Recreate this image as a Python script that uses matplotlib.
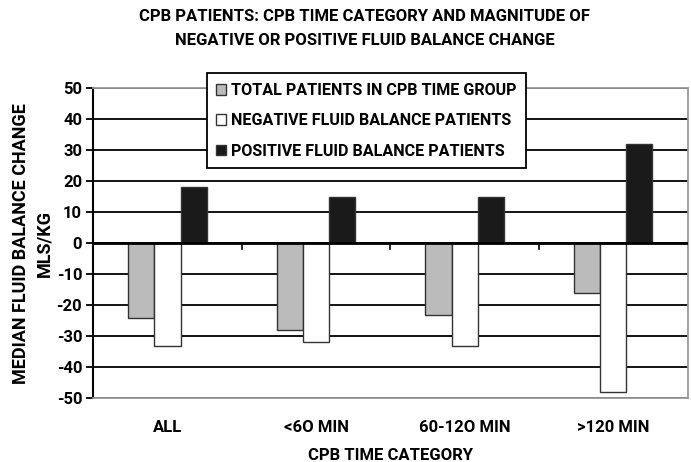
import matplotlib
matplotlib.use("Agg")
import matplotlib.pyplot as plt
import numpy as np

categories = ["ALL", "<6O MIN", "60-12O MIN", ">120 MIN"]
total_vals = [-24, -28, -23, -16]
negative_vals = [-33, -32, -33, -48]
positive_vals = [18, 15, 15, 32]
series_labels = ["TOTAL PATIENTS IN CPB TIME GROUP",
                 "NEGATIVE FLUID BALANCE PATIENTS",
                 "POSITIVE FLUID BALANCE PATIENTS"]
yticks = [50, 40, 30, 20, 10, 0, -10, -20, -30, -40, -50]

plt.rcParams['font.family'] = ['Roboto', 'DejaVu Sans']
plt.rcParams['font.weight'] = 'bold'

W, H = 691, 462
fig = plt.figure(figsize=(W / 100, H / 100), dpi=100)
ax = fig.add_axes([0.135, 0.138, 0.860, 0.671])

x = np.arange(len(categories))
w = 0.176
edge = '#333333'
ax.bar(x - w, total_vals, w, color='#bbbbbb', edgecolor=edge, linewidth=1, zorder=3, label=series_labels[0])
ax.bar(x, negative_vals, w, color='white', edgecolor=edge, linewidth=1, zorder=3, label=series_labels[1])
ax.bar(x + w, positive_vals, w, color='#1a1a1a', edgecolor=edge, linewidth=1, zorder=3, label=series_labels[2])

ax.set_xlim(-0.5, len(categories) - 0.5)
ax.set_ylim(-50, 50)
ax.set_yticks(yticks)
ax.set_yticklabels([str(v) for v in yticks], fontsize=12, fontweight='bold')
ax.yaxis.grid(True, color='black', linewidth=1.3, zorder=0)
ax.set_axisbelow(True)
ax.tick_params(axis='y', length=5, width=1.3, color='black', pad=3)

ax.set_xticks(x)
ax.set_xticklabels(categories, fontsize=12, fontweight='bold')
ax.tick_params(axis='x', length=0, pad=16)

# zero axis line and category boundary ticks
ax.axhline(0, color='black', linewidth=2, zorder=4)
for b in np.arange(0.5, len(categories) - 0.5, 1.0):
    ax.plot([b, b], [0, -2], color='black', linewidth=1.2, zorder=4)

for s in ['top', 'right', 'bottom']:
    ax.spines[s].set_color('#999999')
    ax.spines[s].set_linewidth(1.3)
ax.spines['left'].set_color('black')
ax.spines['left'].set_linewidth(1.5)

ax.set_xlabel("CPB TIME CATEGORY", fontsize=12, fontweight='bold', labelpad=9)

# two-line y label placed explicitly
fig.text(21.5 / W, 1 - 243.5 / H, "MEDIAN FLUID BALANCE CHANGE", rotation=90,
         ha='center', va='center', fontsize=13, fontweight='bold')
fig.text(44.5 / W, 1 - 243.5 / H, "MLS/KG", rotation=90,
         ha='center', va='center', fontsize=13, fontweight='bold')

fig.text(0.528, 0.965, "CPB PATIENTS: CPB TIME CATEGORY AND MAGNITUDE OF",
         ha='center', va='center', fontsize=12, fontweight='bold')
fig.text(0.528, 0.913, "NEGATIVE OR POSITIVE FLUID BALANCE CHANGE",
         ha='center', va='center', fontsize=12, fontweight='bold')

leg = ax.legend(loc='upper left', bbox_to_anchor=(0.1908, 1.048), borderaxespad=0,
                fontsize=11.6, frameon=True, fancybox=False, edgecolor='black',
                handlelength=0.62, handleheight=0.62, handletextpad=0.3,
                labelspacing=0.95, borderpad=0.6)
leg.get_frame().set_linewidth(1.3)
leg.get_frame().set_facecolor('white')
leg.get_frame().set_alpha(1)
leg.set_zorder(10)

fig.savefig("out.png", dpi=100)
